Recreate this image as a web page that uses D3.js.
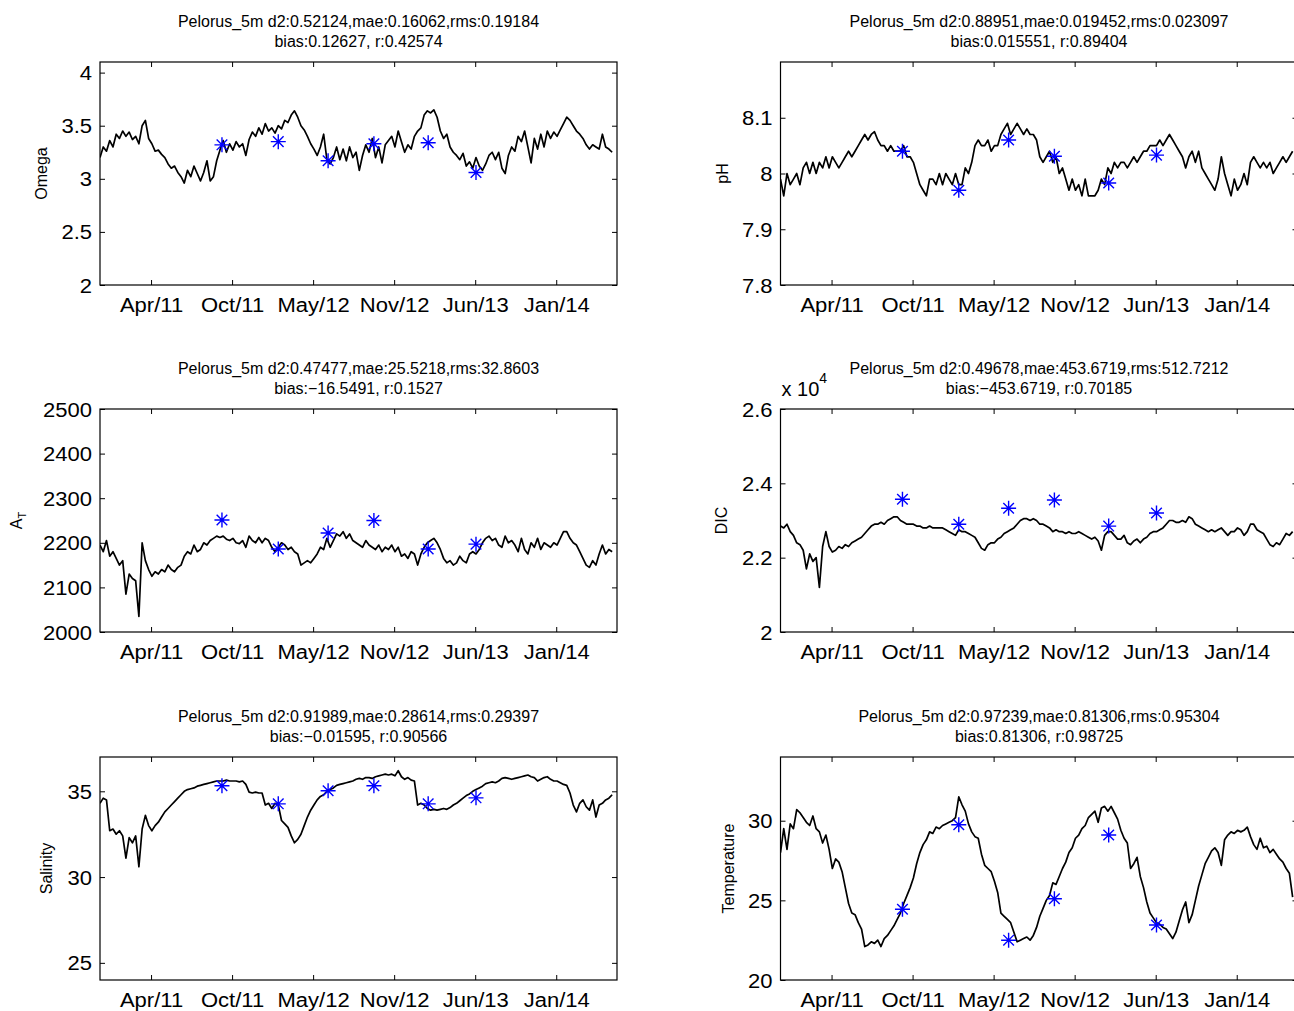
<!DOCTYPE html>
<html>
<head>
<meta charset="utf-8">
<script src="https://cdn.jsdelivr.net/npm/d3@7"></script>
<style>
  html, body { margin: 0; padding: 0; background: #fff; overflow: hidden; }
  svg { display: block; font-family: "Liberation Sans", Arial, Helvetica, sans-serif; }
</style>
</head>
<body>
<div id="chart"></div>
<script>
// model series is sampled every 8 days from this date
const sampleStart = "2010-12-02";
const sampleStepDays = 8;

const xLimits = ["2010-12-02", "2014-05-31"];
const xTickDates = ["2011-04-07", "2011-10-24", "2012-05-11", "2012-11-27", "2013-06-15", "2014-01-01"];
const obsDates = ["2011-09-29", "2012-02-15", "2012-06-17", "2012-10-08", "2013-02-19", "2013-06-17"];

// Omega
const omegaTitle = ["Pelorus_5m d2:0.52124,mae:0.16062,rms:0.19184", "bias:0.12627, r:0.42574"];
const omegaTicks = [2, 2.5, 3, 3.5, 4];
const omegaObs = [3.32, 3.35, 3.17, 3.33, 3.34, 3.06];
const omegaModel = [
  3.20, 3.30, 3.26, 3.36, 3.30, 3.42, 3.38, 3.45, 3.40, 3.44,
  3.37, 3.40, 3.33, 3.50, 3.55, 3.38, 3.33, 3.26, 3.27, 3.23,
  3.20, 3.14, 3.10, 3.12, 3.06, 3.02, 2.96, 3.08, 3.02, 3.12,
  3.05, 2.98, 3.06, 3.17, 2.98, 3.02, 3.17, 3.27, 3.36, 3.25,
  3.33, 3.27, 3.35, 3.30, 3.33, 3.22, 3.37, 3.44, 3.40, 3.48,
  3.42, 3.52, 3.45, 3.48, 3.43, 3.50, 3.47, 3.55, 3.53, 3.60,
  3.64, 3.58, 3.50, 3.46, 3.40, 3.33, 3.28, 3.22, 3.30, 3.42,
  3.18, 3.14, 3.20, 3.30, 3.18, 3.28, 3.17, 3.30, 3.20, 3.25,
  3.08, 3.22, 3.32, 3.25, 3.38, 3.20, 3.30, 3.15, 3.32, 3.36,
  3.40, 3.30, 3.45, 3.35, 3.25, 3.32, 3.28, 3.40, 3.45, 3.48,
  3.60, 3.64, 3.62, 3.65, 3.58, 3.45, 3.38, 3.42, 3.30, 3.25,
  3.22, 3.18, 3.24, 3.12, 3.16, 3.10, 3.20, 3.12, 3.08, 3.14,
  3.22, 3.25, 3.18, 3.25, 3.10, 3.05, 3.22, 3.30, 3.26, 3.40,
  3.35, 3.45, 3.30, 3.15, 3.38, 3.28, 3.42, 3.30, 3.45, 3.38,
  3.44, 3.40, 3.46, 3.52, 3.58, 3.55, 3.50, 3.45, 3.42, 3.38,
  3.32, 3.28, 3.32, 3.30, 3.28, 3.42, 3.30, 3.28, 3.25
];

// pH
const phTitle = ["Pelorus_5m d2:0.88951,mae:0.019452,rms:0.023097", "bias:0.015551, r:0.89404"];
const phTicks = [7.8, 7.9, 8, 8.1];
const phObs = [8.040, 7.970, 8.060, 8.031, 7.983, 8.033];
const phModel = [
  7.99, 7.96, 8.00, 7.98, 7.99, 8.00, 7.98, 8.01, 8.02, 8.00,
  8.02, 8.00, 8.02, 8.01, 8.03, 8.01, 8.03, 8.02, 8.01, 8.02,
  8.03, 8.04, 8.03, 8.04, 8.05, 8.06, 8.07, 8.06, 8.07, 8.075,
  8.06, 8.05, 8.05, 8.04, 8.05, 8.04, 8.04, 8.04, 8.05, 8.03,
  8.03, 8.02, 8.00, 7.98, 7.97, 7.96, 7.99, 7.99, 7.98, 8.00,
  7.98, 8.00, 7.99, 7.98, 8.00, 7.98, 7.98, 8.01, 8.00, 8.02,
  8.05, 8.06, 8.05, 8.05, 8.06, 8.04, 8.05, 8.05, 8.07, 8.08,
  8.09, 8.07, 8.08, 8.09, 8.08, 8.07, 8.08, 8.07, 8.07, 8.06,
  8.03, 8.02, 8.03, 8.04, 8.02, 8.03, 8.00, 8.01, 7.99, 7.97,
  7.99, 7.97, 7.98, 7.96, 7.99, 7.96, 7.96, 7.96, 7.97, 7.99,
  7.98, 8.01, 8.00, 8.02, 8.01, 8.02, 8.02, 8.01, 8.02, 8.03,
  8.02, 8.03, 8.04, 8.04, 8.05, 8.05, 8.05, 8.06, 8.05, 8.06,
  8.07, 8.06, 8.05, 8.04, 8.03, 8.01, 8.03, 8.04, 8.02, 8.04,
  8.01, 8.00, 7.99, 7.98, 7.97, 7.99, 8.03, 8.00, 7.98, 7.96,
  7.99, 7.97, 7.98, 8.00, 7.98, 8.02, 8.03, 8.02, 8.01, 8.02,
  8.01, 8.02, 8.00, 8.01, 8.02, 8.03, 8.02, 8.03, 8.04
];

// total alkalinity
const alkTitle = ["Pelorus_5m d2:0.47477,mae:25.5218,rms:32.8603", "bias:\u221216.5491, r:0.1527"];
const alkTicks = [2000, 2100, 2200, 2300, 2400, 2500];
const alkObs = [2251, 2186, 2222, 2250, 2186, 2197];
const alkModel = [
  2195, 2180, 2205, 2170, 2180, 2165, 2150, 2160, 2085, 2130,
  2120, 2115, 2035, 2200, 2160, 2140, 2125, 2135, 2130, 2140,
  2135, 2150, 2140, 2135, 2145, 2150, 2170, 2180, 2175, 2195,
  2180, 2185, 2200, 2195, 2205, 2210, 2215, 2212, 2215, 2208,
  2205, 2210, 2200, 2198, 2205, 2190, 2215, 2205, 2200, 2212,
  2200, 2210, 2205, 2190, 2180, 2190, 2200, 2195, 2185, 2190,
  2180, 2175, 2150, 2155, 2160, 2155, 2165, 2175, 2190, 2185,
  2210, 2190, 2205, 2220, 2215, 2225, 2210, 2220, 2205, 2200,
  2195, 2190, 2205, 2195, 2190, 2185, 2195, 2180, 2190, 2185,
  2195, 2180, 2190, 2170, 2175, 2165, 2180, 2175, 2150, 2175,
  2190, 2200, 2205, 2210, 2200, 2185, 2165, 2155, 2160, 2150,
  2155, 2170, 2160, 2155, 2175, 2180, 2175, 2185, 2200, 2210,
  2215, 2205, 2210, 2195, 2190, 2215, 2200, 2205, 2195, 2180,
  2210, 2185, 2175, 2200, 2190, 2210, 2185, 2200, 2195, 2190,
  2200, 2195, 2210, 2225, 2225, 2210, 2200, 2195, 2180, 2165,
  2150, 2145, 2160, 2150, 2175, 2195, 2175, 2185, 2180
];

// DIC
const dicTitle = ["Pelorus_5m d2:0.49678,mae:453.6719,rms:512.7212", "bias:\u2212453.6719, r:0.70185"];
const dicTicks = [20000, 22000, 24000, 26000];
const dicObs = [23570, 22900, 23330, 23550, 22850, 23200];
const dicModel = [
  22850, 22800, 22900, 22700, 22600, 22400, 22350, 22200, 21700, 22100,
  21900, 22000, 21200, 22300, 22700, 22300, 22150, 22200, 22300, 22250,
  22350, 22300, 22400, 22450, 22500, 22550, 22650, 22750, 22850, 22900,
  22900, 22950, 22900, 23000, 23050, 23100, 23100, 23000, 22950, 22900,
  22900, 22900, 22850, 22850, 22800, 22800, 22850, 22800, 22800, 22800,
  22800, 22750, 22700, 22650, 22600, 22750, 22700, 22700, 22650, 22600,
  22550, 22400, 22250, 22200, 22350, 22400, 22400, 22500, 22550, 22650,
  22700, 22750, 22800, 22900, 23000, 23050, 23050, 23000, 23050, 23000,
  22900, 22900, 22850, 22800, 22700, 22750, 22700, 22700, 22650, 22700,
  22650, 22650, 22700, 22650, 22600, 22550, 22500, 22550, 22450, 22200,
  22600, 22700, 22700, 22600, 22500, 22500, 22600, 22400, 22350, 22450,
  22500, 22400, 22500, 22550, 22650, 22700, 22700, 22750, 22800, 22900,
  23000, 23000, 22950, 22950, 23000, 22950, 23100, 23050, 22900, 22850,
  22800, 22750, 22700, 22750, 22700, 22750, 22800, 22700, 22600, 22700,
  22700, 22800, 22750, 22600, 22700, 22900, 22900, 22750, 22700, 22650,
  22500, 22350, 22300, 22400, 22350, 22500, 22650, 22600, 22700
];

// salinity
const salTitle = ["Pelorus_5m d2:0.91989,mae:0.28614,rms:0.29397", "bias:\u22120.01595, r:0.90566"];
const salTicks = [25, 30, 35];
const salObs = [35.32, 34.27, 35.03, 35.32, 34.27, 34.62];
const salModel = [
  34.3, 34.6, 34.5, 32.7, 32.8, 32.5, 32.7, 32.4, 31.1, 32.3,
  32.0, 32.4, 30.6, 32.8, 33.6, 33.0, 32.7, 33.0, 33.2, 33.5,
  33.8, 34.0, 34.2, 34.4, 34.6, 34.8, 35.0, 35.1, 35.15, 35.2,
  35.3, 35.35, 35.4, 35.45, 35.5, 35.55, 35.6, 35.6, 35.6, 35.65,
  35.6, 35.6, 35.6, 35.55, 35.6, 35.4, 34.95, 34.9, 34.95, 34.9,
  34.9, 34.2, 34.3, 34.0, 34.3, 34.2, 33.3, 33.1, 32.9, 32.4,
  32.0, 32.2, 32.5, 33.0, 33.5, 33.9, 34.2, 34.5, 34.7, 34.8,
  35.0, 35.1, 35.2, 35.35, 35.4, 35.45, 35.5, 35.55, 35.6, 35.7,
  35.75, 35.7, 35.8, 35.8, 35.75, 35.85, 35.9, 35.95, 36.0, 35.95,
  36.0, 35.9, 36.2, 35.85, 35.7, 35.8, 35.65, 35.6, 34.2, 34.3,
  34.2, 34.0, 33.9, 33.95, 33.9, 33.95, 34.0, 33.95, 34.05, 34.2,
  34.3, 34.45, 34.6, 34.75, 34.85, 35.0, 35.1, 35.2, 35.3, 35.45,
  35.5, 35.55, 35.5, 35.6, 35.75, 35.8, 35.75, 35.7, 35.75, 35.8,
  35.85, 35.9, 35.95, 35.85, 35.8, 35.6, 35.7, 35.8, 35.85, 35.7,
  35.6, 35.6, 35.5, 35.4, 35.35, 34.9, 34.2, 33.8, 34.3, 34.5,
  34.1, 33.9, 34.5, 33.5, 34.2, 34.3, 34.5, 34.6, 34.8
];

// temperature
const tempTitle = ["Pelorus_5m d2:0.97239,mae:0.81306,rms:0.95304", "bias:0.81306, r:0.98725"];
const tempTicks = [20, 25, 30];
const tempObs = [24.44, 29.75, 22.5, 25.1, 29.1, 23.45];
const tempModel = [
  28.0, 29.5, 28.2, 29.8, 29.5, 30.7, 30.5, 30.2, 29.9, 29.7,
  30.3, 29.5, 29.3, 28.6, 29.1, 28.2, 27.0, 27.6, 27.4, 26.8,
  25.8, 24.8, 24.2, 24.1, 23.6, 23.2, 22.1, 22.2, 22.4, 22.3,
  22.5, 22.1, 22.6, 22.8, 23.1, 23.4, 23.8, 24.2, 24.8, 25.3,
  25.8, 26.4, 27.3, 28.0, 28.5, 28.8, 29.3, 29.2, 29.6, 29.5,
  29.7, 29.8, 29.9, 30.0, 30.2, 31.5, 31.0, 30.6, 29.8, 29.3,
  29.0, 28.9, 27.9, 27.2, 27.0, 26.8, 26.2, 25.5, 24.2, 24.0,
  23.8, 23.6, 23.0, 22.4, 22.5, 22.6, 22.7, 22.5, 22.8, 23.3,
  24.0, 24.5, 25.0, 25.3, 26.1, 26.0, 26.5, 27.0, 27.4, 28.0,
  28.3, 28.9, 29.1, 29.5, 29.7, 30.2, 30.4, 30.6, 29.9, 30.8,
  30.9, 30.6, 30.9, 30.5, 30.1, 29.4, 28.9, 28.6, 27.0, 27.3,
  27.7, 26.5, 25.8, 24.9, 24.2, 23.9, 23.6, 23.5, 23.3, 23.2,
  22.9, 22.6, 23.0, 23.7, 24.4, 24.9, 23.6, 24.1, 25.0, 25.9,
  26.6, 27.3, 27.7, 28.1, 28.3, 28.0, 27.2, 28.8, 29.1, 29.3,
  29.2, 29.4, 29.3, 29.4, 29.6, 29.0, 28.5, 28.2, 28.9, 28.3,
  28.4, 28.0, 28.2, 27.9, 27.6, 27.4, 27.0, 26.7, 25.2
];

const W = 1294, H = 1011;
const colLeft = [100, 780.5];
const rowTop = [62, 409, 757];
const boxW = 517, boxH = 223;
const tickLen = 5;

const parse = d3.utcParse("%Y-%m-%d");
const t0 = parse(sampleStart);
const sampleDate = i => d3.utcDay.offset(t0, i * sampleStepDays);
const fmtTick = v => String(+v.toFixed(3));

const panels = [
  { col: 0, row: 0, title: omegaTitle, label: "Omega", domain: [2, 4.1], ticks: omegaTicks, model: omegaModel, obs: omegaObs, labelX: -53.5 },
  { col: 1, row: 0, title: phTitle, label: "pH", domain: [7.8, 8.2], ticks: phTicks, model: phModel, obs: phObs, labelX: -52.5 },
  { col: 0, row: 1, title: alkTitle, label: "A_T", domain: [2000, 2500], ticks: alkTicks, model: alkModel, obs: alkObs, labelX: -78 },
  { col: 1, row: 1, title: dicTitle, label: "DIC", domain: [20000, 26000], ticks: dicTicks, model: dicModel, obs: dicObs, labelX: -54, scale10: 4 },
  { col: 0, row: 2, title: salTitle, label: "Salinity", domain: [24, 37], ticks: salTicks, model: salModel, obs: salObs, labelX: -48.5 },
  { col: 1, row: 2, title: tempTitle, label: "Temperature", domain: [20, 34], ticks: tempTicks, model: tempModel, obs: tempObs, labelX: -47 }
];

const svg = d3.select("#chart").append("svg")
  .attr("width", W)
  .attr("height", H)
  .attr("viewBox", `0 0 ${W} ${H}`);

svg.append("rect").attr("width", W).attr("height", H).attr("fill", "#fff");

const x = d3.scaleUtc()
  .domain(xLimits.map(parse))
  .range([0, boxW]);

// MATLAB style asterisk
const starR = 7.5, starD = 5.3;
const starPath = `M${-starR},0H${starR}M0,${-starR}V${starR}M${-starD},${-starD}L${starD},${starD}M${-starD},${starD}L${starD},${-starD}`;

panels.forEach((p, k) => {
  const g = svg.append("g")
    .attr("transform", `translate(${colLeft[p.col]},${rowTop[p.row]})`);

  const y = d3.scaleLinear().domain(p.domain).range([boxH, 0]);
  const div = p.scale10 ? Math.pow(10, p.scale10) : 1;

  // title (two lines)
  g.selectAll("text.title")
    .data(p.title)
    .join("text")
    .attr("class", "title")
    .attr("x", boxW / 2)
    .attr("y", (d, i) => -35 + i * 20)
    .attr("text-anchor", "middle")
    .attr("font-size", 16)
    .attr("fill", "#000")
    .text(d => d);

  // axes with inward ticks on every side
  g.append("g")
    .attr("transform", `translate(0,${boxH})`)
    .call(d3.axisBottom(x)
      .tickValues(xTickDates.map(parse))
      .tickFormat(d3.utcFormat("%b/%y"))
      .tickSize(-tickLen)
      .tickPadding(13));
  g.append("g")
    .call(d3.axisTop(x).tickValues(xTickDates.map(parse)).tickFormat("").tickSize(-tickLen));
  const left = g.append("g")
    .call(d3.axisLeft(y)
      .tickValues(p.ticks)
      .tickFormat(v => fmtTick(v / div))
      .tickSize(-tickLen)
      .tickPadding(8));
  g.append("g")
    .attr("transform", `translate(${boxW},0)`)
    .call(d3.axisRight(y).tickValues(p.ticks).tickFormat("").tickSize(-tickLen));

  g.selectAll(".domain").remove();
  g.selectAll(".tick line").attr("stroke", "#000").attr("stroke-width", 1);
  // the tick font of the original is a little wider than Arial
  g.selectAll(".tick text")
    .attr("font-size", 19.5)
    .attr("font-family", "'Liberation Sans', Arial, sans-serif")
    .attr("fill", "#000")
    .attr("transform", "scale(1.13,1)");
  left.selectAll(".tick text").attr("dy", "0.36em").attr("x", -8 / 1.13);

  // clip for the data
  const clipId = "clip" + k;
  g.append("clipPath").attr("id", clipId)
    .append("rect").attr("width", boxW).attr("height", boxH);

  const line = d3.line()
    .x((d, i) => x(sampleDate(i)))
    .y(d => y(d));

  g.append("path")
    .datum(p.model)
    .attr("clip-path", `url(#${clipId})`)
    .attr("fill", "none")
    .attr("stroke", "#000")
    .attr("stroke-width", 1.7)
    .attr("stroke-linejoin", "round")
    .attr("d", line);

  g.selectAll("path.star")
    .data(p.obs)
    .join("path")
    .attr("class", "star")
    .attr("transform", (d, i) => `translate(${x(parse(obsDates[i]))},${y(d)})`)
    .attr("d", starPath)
    .attr("fill", "none")
    .attr("stroke", "#0000ff")
    .attr("stroke-width", 1.4);

  // box
  g.append("rect")
    .attr("width", boxW)
    .attr("height", boxH)
    .attr("fill", "none")
    .attr("stroke", "#000")
    .attr("stroke-width", 1.2);

  // y label
  const lab = g.append("text")
    .attr("transform", `translate(${p.labelX},${boxH / 2}) rotate(-90)`)
    .attr("text-anchor", "middle")
    .attr("font-size", 16)
    .attr("fill", "#000");
  if (p.label === "A_T") {
    lab.append("tspan").text("A");
    lab.append("tspan").attr("font-size", 11).attr("dy", 4).text("T");
  } else {
    lab.text(p.label);
  }

  // exponent label above the axis
  if (p.scale10) {
    const ex = g.append("text")
      .attr("x", 1)
      .attr("y", -13)
      .attr("font-size", 20)
      .attr("fill", "#000");
    ex.append("tspan").text("x 10");
    ex.append("tspan").attr("font-size", 14).attr("dy", -13).text(p.scale10);
  }
});
</script>
</body>
</html>
